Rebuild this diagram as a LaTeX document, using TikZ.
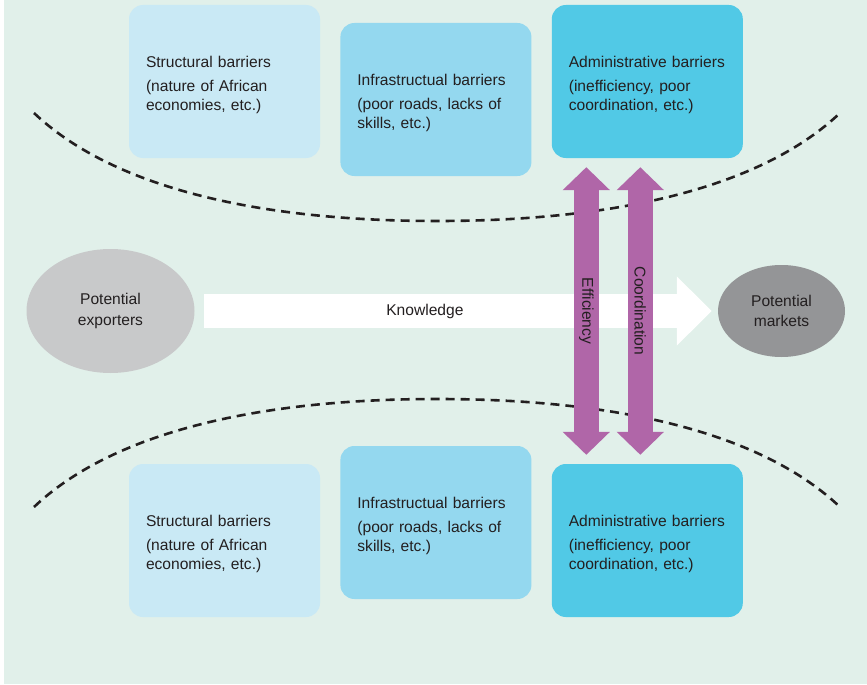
\documentclass[tikz,border=0pt]{standalone}
\usepackage{fontspec}
\setmainfont{Liberation Sans}
\usepackage{xcolor}
\usepackage{tikz}
\usetikzlibrary{positioning,arrows.meta,shapes.geometric}
\definecolor{cbg}{HTML}{E1F0EA}
\definecolor{cstruct}{HTML}{C9E9F5}
\definecolor{cinfra}{HTML}{94D8EF}
\definecolor{cadmin}{HTML}{51C9E6}
\definecolor{cexp}{HTML}{C8C9CA}
\definecolor{cmkt}{HTML}{949597}
\definecolor{cflow}{HTML}{B066A8}
\definecolor{ctext}{HTML}{231F20}
\tikzset{
  barbox/.style={rounded corners=14pt, minimum width=191pt, minimum height=153pt,
    text width=157pt, align=left, text=ctext, font=\fontsize{15.6}{18.5}\selectfont,
    execute at begin node={\rule{0pt}{17.5pt}}},
  goalnode/.style={ellipse, align=center, text=ctext, font=\fontsize{15.6}{20.5}\selectfont},
  knowarrow/.style={-{Triangle[width=67pt,length=35pt]}, line width=34pt, white},
  flowarrow/.style={{Triangle[width=46pt,length=23pt]}-{Triangle[width=46pt,length=23pt]},
    line width=25pt, color=cflow},
  flowlabel/.style={midway, rotate=-90, text=ctext, font=\fontsize{15.6}{18.5}\selectfont},
  barline/.style={dash pattern=on 9pt off 6pt, line width=2.6pt, color=ctext}
}

\begin{document}
\begin{tikzpicture}[x=1pt, y=-1pt, node distance=20pt]
  \useasboundingbox (0,0) rectangle (867,685);
  \fill[cbg] (4,0) rectangle (867,684);

  % dashed borders of the corridor
  \draw[barline] (34,113) .. controls (110,185) and (250,221) .. (437,221)
    .. controls (624,221) and (764,185) .. (840,113);
  \draw[barline] (34,507) .. controls (110,435) and (250,399) .. (437,399)
    .. controls (624,399) and (764,435) .. (840,507);

  % top row
  \node[barbox, fill=cstruct] (strtop) at (224.5,81.5)
    {Structural barriers\\[6pt](nature of African\\economies, etc.)};
  \node[barbox, fill=cinfra, right=of strtop, yshift=-18pt] (inftop)
    {Infrastructual barriers\\[6pt](poor roads, lacks of\\skills, etc.)};
  \node[barbox, fill=cadmin, right=of inftop, yshift=18pt] (admtop)
    {Administrative barriers\\[6pt](inefficiency, poor\\coordination, etc.)};

  % bottom row
  \node[barbox, fill=cstruct] (strbot) at (224.5,540.5)
    {Structural barriers\\[6pt](nature of African\\economies, etc.)};
  \node[barbox, fill=cinfra, right=of strbot, yshift=18pt] (infbot)
    {Infrastructual barriers\\[6pt](poor roads, lacks of\\skills, etc.)};
  \node[barbox, fill=cadmin, right=of infbot, yshift=-18pt] (admbot)
    {Administrative barriers\\[6pt](inefficiency, poor\\coordination, etc.)};

  % exporters and markets
  \node[goalnode, fill=cexp, minimum width=168pt, minimum height=124pt] (expl) at (110.5,311)
    {Potential\\exporters};
  \node[goalnode, fill=cmkt, minimum width=127pt, minimum height=92pt] (mkts) at (781.5,311)
    {Potential\\markets};

  \draw[knowarrow, shorten <=9.5pt, shorten >=6pt] (expl.east) --
    node[pos=0.44, text=ctext, font=\fontsize{15.6}{18.5}\selectfont] (know) {Knowledge} (mkts.west);

  \draw[flowarrow, shorten <=9pt, shorten >=9pt] ([xshift=-61pt]admtop.south) --
    node[flowlabel] (eff) {Efficiency} ([xshift=-61pt]admbot.north);
  \draw[flowarrow, shorten <=9pt, shorten >=9pt] ([xshift=-7pt]admtop.south) --
    node[flowlabel] (coord) {Coordination} ([xshift=-7pt]admbot.north);
\end{tikzpicture}
\end{document}
